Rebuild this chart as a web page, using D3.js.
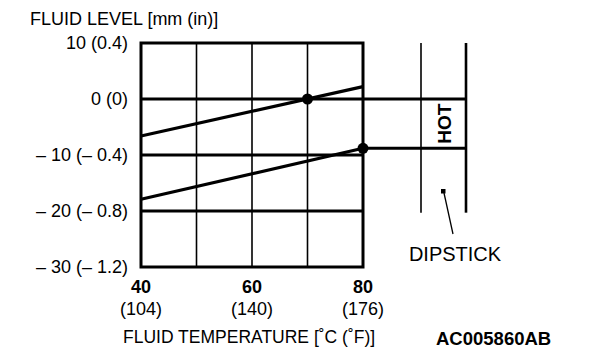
<!DOCTYPE html>
<html><head><meta charset="utf-8">
<script src="https://cdn.jsdelivr.net/npm/d3@7"></script>
<style>body{margin:0;background:#fff}svg{display:block}text{font-family:"Liberation Sans",Arial,sans-serif;fill:#000}</style>
</head><body><svg id="c" width="608" height="360"></svg>
<script>
const xTicksC = [40, 60, 80];
const xTicksF = [104, 140, 176];
const xGrid = [50, 60, 70];
const yTicksMm = [10, 0, -10, -20, -30];
const yTicksIn = ["0.4", "0", "0.4", "0.8", "1.2"];
const refLevels = [0, -10, -20];
const upperLine = [[40, -6.6], [80, 2.2]];
const lowerLine = [[40, -17.9], [80, -8.8]];
const dots = [[70, 0], [80, -8.8]];
const hotTop = 0, hotBottom = -8.8;
const dipTop = 10, dipBottom = -20.3;

const svg = d3.select("#c");
const x = d3.scaleLinear().domain([40, 80]).range([141, 363]);
const y = d3.scaleLinear().domain([-30, 10]).range([267, 43]);
const dipL = 421, dipR = 466;

svg.append("g").selectAll("line").data(xGrid).join("line")
  .attr("x1", d => x(d)).attr("x2", d => x(d)).attr("y1", y(10)).attr("y2", y(-30))
  .attr("stroke", "#000").attr("stroke-width", 1.6);

svg.append("g").selectAll("line").data(refLevels).join("line")
  .attr("x1", x(40)).attr("x2", d => d === hotTop ? dipR : x(80))
  .attr("y1", d => y(d)).attr("y2", d => y(d))
  .attr("stroke", "#000").attr("stroke-width", 3);

svg.append("rect").attr("x", x(40)).attr("y", y(10)).attr("width", x(80) - x(40)).attr("height", y(-30) - y(10))
  .attr("fill", "none").attr("stroke", "#000").attr("stroke-width", 3);

svg.append("line").attr("x1", x(80)).attr("x2", dipR).attr("y1", y(hotBottom)).attr("y2", y(hotBottom))
  .attr("stroke", "#000").attr("stroke-width", 3);

svg.append("line").attr("x1", dipL).attr("x2", dipL).attr("y1", y(dipTop)).attr("y2", y(dipBottom))
  .attr("stroke", "#000").attr("stroke-width", 1.6);
svg.append("line").attr("x1", dipR).attr("x2", dipR).attr("y1", y(dipTop)).attr("y2", y(dipBottom))
  .attr("stroke", "#000").attr("stroke-width", 2.6);

const line = d3.line().x(d => x(d[0])).y(d => y(d[1]));
[upperLine, lowerLine].forEach(s => svg.append("path").attr("d", line(s))
  .attr("fill", "none").attr("stroke", "#000").attr("stroke-width", 3.2));

svg.append("g").selectAll("circle").data(dots).join("circle")
  .attr("cx", d => x(d[0])).attr("cy", d => y(d[1])).attr("r", 5.5).attr("fill", "#000");

const hx = (dipL + dipR) / 2 + 1, hy = (y(hotTop) + y(hotBottom)) / 2;
svg.append("text").attr("transform", `translate(${hx},${hy}) rotate(-90)`)
  .attr("text-anchor", "middle").attr("dy", "0.36em")
  .attr("font-size", 19).attr("font-weight", "bold").text("HOT");

svg.append("rect").attr("x", 441).attr("y", 189).attr("width", 4.5).attr("height", 4.5).attr("fill", "#000");
svg.append("line").attr("x1", 444).attr("y1", 193).attr("x2", 453).attr("y2", 234)
  .attr("stroke", "#000").attr("stroke-width", 1.3);
svg.append("text").attr("x", 455).attr("y", 261).attr("text-anchor", "middle")
  .attr("font-size", 20).text("DIPSTICK");

svg.append("g").selectAll("text").data(yTicksMm).join("text")
  .attr("x", 128).attr("y", d => y(d)).attr("dy", "0.36em").attr("text-anchor", "end")
  .attr("font-size", 18)
  .text((d, i) => d < 0 ? `\u2013 ${-d} (\u2013 ${yTicksIn[i]})` : `${d} (${yTicksIn[i]})`);

const xt = svg.append("g").selectAll("g").data(xTicksC).join("g");
xt.append("text").attr("x", d => x(d)).attr("y", 293).attr("text-anchor", "middle")
  .attr("font-size", 18).attr("font-weight", "bold").text(d => d);
xt.append("text").attr("x", d => x(d)).attr("y", 315).attr("text-anchor", "middle")
  .attr("font-size", 18).text((d, i) => `(${xTicksF[i]})`);

svg.append("text").attr("x", 30).attr("y", 25).attr("font-size", 18).text("FLUID LEVEL [mm (in)]");
svg.append("text").attr("x", 123).attr("y", 343).attr("font-size", 17.5).text("FLUID TEMPERATURE [\u02DAC (\u02DAF)]");
svg.append("text").attr("x", 436).attr("y", 345).attr("font-size", 18.5).attr("font-weight", "bold").text("AC005860AB");
</script></body></html>
